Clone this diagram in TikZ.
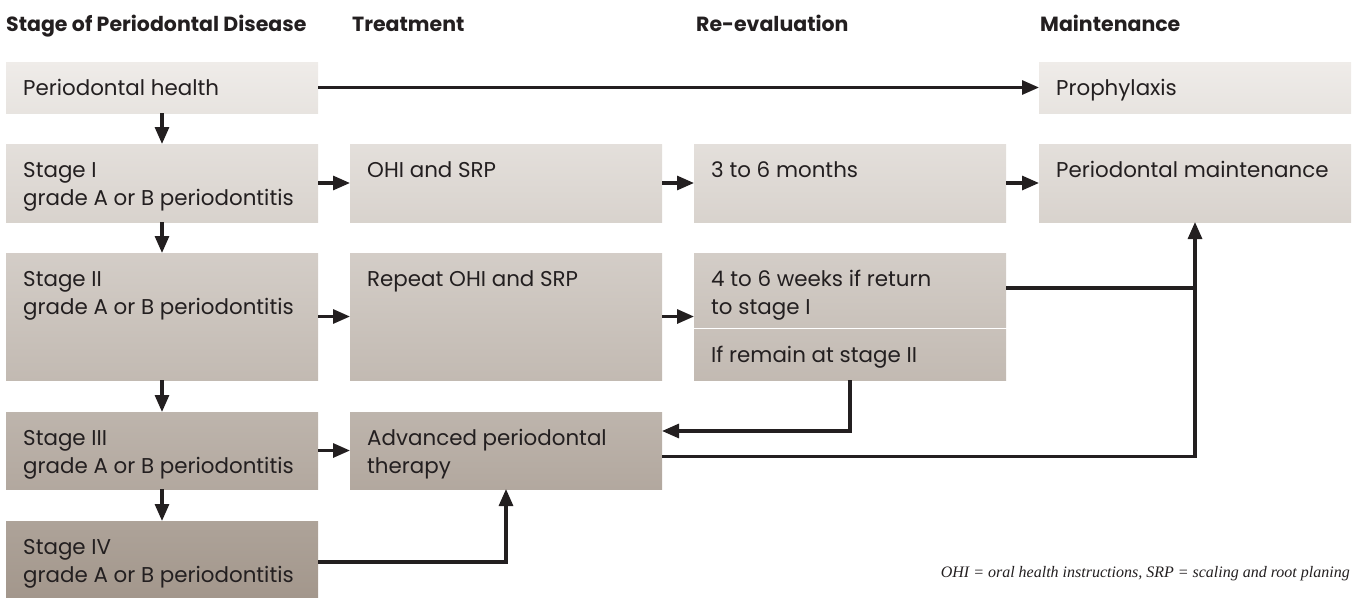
\documentclass[tikz,border=0pt]{standalone}
\usepackage{fontspec}
\setmainfont{Poppins}
\newfontfamily\notefont{Liberation Serif}
\usetikzlibrary{arrows.meta,calc}
\definecolor{topc}{HTML}{EFECE9}
\definecolor{botc}{HTML}{A3978C}
\definecolor{ink}{HTML}{231F20}
\begin{document}
\begin{tikzpicture}[x=1pt,y=-1pt,
  box/.style={draw=none, minimum width=312pt, inner sep=0pt, outer sep=0pt, anchor=north west},
  txt/.style={anchor=base west, inner sep=0pt, font=\fontsize{21.4}{28}\selectfont, text=ink, align=left},
  hdr/.style={anchor=base west, inner sep=0pt, font=\fontsize{20.5}{24}\selectfont\bfseries, text=ink},
  arr/.style={-{Triangle[length=17pt,width=14pt]}, line width=3.1pt, draw=ink},
  ln/.style={line width=3.1pt, draw=ink}]
\useasboundingbox (0,0) rectangle (1357,597);
% headers
\node[hdr] (hd1) at (6,31) {Stage of Periodontal Disease};
\node[hdr] (hd2) at (352,31) {Treatment};
\node[hdr] (hd3) at (696,31) {Re-evaluation};
\node[hdr] (hd4) at (1040,31) {Maintenance};
% column 1
\node[box, minimum height=51pt, top color=botc!0!topc, bottom color=botc!10!topc] (h) at (6,62) {};
\node[box, minimum height=78pt, top color=botc!15!topc, bottom color=botc!30!topc] (s1) at (6,144) {};
\node[box, minimum height=127pt, top color=botc!36!topc, bottom color=botc!59!topc] (s2) at (6,253) {};
\node[box, minimum height=77pt, top color=botc!65!topc, bottom color=botc!80!topc] (s3) at (6,412) {};
\node[box, minimum height=76pt, top color=botc!86!topc, bottom color=botc!100!topc] (s4) at (6,521) {};
% column 2
\node[box, minimum height=78pt, top color=botc!15!topc, bottom color=botc!30!topc] (ohi) at (350,144) {};
\node[box, minimum height=127pt, top color=botc!36!topc, bottom color=botc!59!topc] (rep) at (350,253) {};
\node[box, minimum height=77pt, top color=botc!65!topc, bottom color=botc!80!topc] (adv) at (350,412) {};
% column 3
\node[box, minimum height=78pt, top color=botc!15!topc, bottom color=botc!30!topc] (m36) at (694,144) {};
\node[box, minimum height=74pt, top color=botc!36!topc, bottom color=botc!50!topc] (w46) at (694,253) {};
\node[box, minimum height=51pt, top color=botc!50!topc, bottom color=botc!59!topc] (rem) at (694,329) {};
% column 4
\node[box, minimum height=51pt, top color=botc!0!topc, bottom color=botc!10!topc] (pro) at (1039,62) {};
\node[box, minimum height=78pt, top color=botc!15!topc, bottom color=botc!30!topc] (pm) at (1039,144) {};
% texts (base anchor = baseline of last line)
\node[txt] (ht) at (23,95) {Periodontal health};
\node[txt] (s1t) at (23,205) {Stage I\\grade A or B periodontitis};
\node[txt] (s2t) at (23,314) {Stage II\\grade A or B periodontitis};
\node[txt] (s3t) at (23,473) {Stage III\\grade A or B periodontitis};
\node[txt] (s4t) at (23,582) {Stage IV\\grade A or B periodontitis};
\node[txt] (ohit) at (367,177) {OHI and SRP};
\node[txt] (rept) at (367,286) {Repeat OHI and SRP};
\node[txt] (advt) at (367,473) {Advanced periodontal\\therapy};
\node[txt] (m36t) at (711,177) {3 to 6 months};
\node[txt] (w46t) at (711,314) {4 to 6 weeks if return\\to stage I};
\node[txt] (remt) at (711,362) {If remain at stage II};
\node[txt] (prot) at (1056,95) {Prophylaxis};
\node[txt] (pmt) at (1056,177) {Periodontal maintenance};
\node[anchor=base east, inner sep=0pt, font=\notefont\itshape\fontsize{16}{18}\selectfont, text=ink] (note) at (1350,577) {OHI = oral health instructions, SRP = scaling and root planing};
% connectors
\draw[arr] (h.east) -- (pro.west);
\draw[arr] (h.south) -- (s1.north);
\draw[arr] (s1.south) -- (s2.north);
\draw[arr] (s2.south) -- (s3.north);
\draw[arr] (s3.south) -- (s4.north);
\draw[arr] (s1.east) -- (ohi.west);
\draw[arr] (ohi.east) -- (m36.west);
\draw[arr] (m36.east) -- (pm.west);
\draw[arr] (s2.east) -- (rep.west);
\draw[arr] (rep.east) -- (rep.east -| w46.west);
\draw[arr] (s3.east) -- (adv.west);
\draw[ln] ([yshift=2pt]w46.east) -- ([yshift=2pt]w46.east -| pm.south);
\draw[arr] ([yshift=-6pt]adv.east) -| (pm.south);
\draw[arr] (rem.south) |- ([yshift=19.5pt]adv.east);
\draw[arr] ([yshift=-3pt]s4.east) -| (adv.south);
\end{tikzpicture}
\end{document}
